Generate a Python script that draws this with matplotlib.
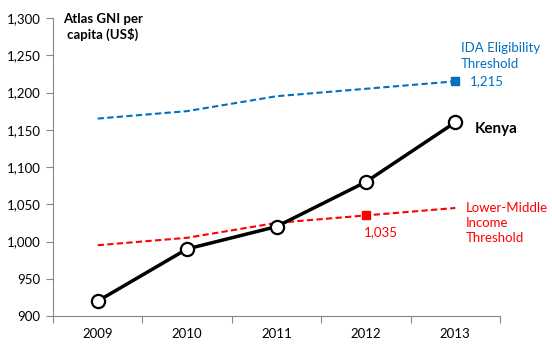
import matplotlib
matplotlib.use("Agg")
import matplotlib.pyplot as plt
from matplotlib.ticker import FuncFormatter, FixedLocator

plt.rcParams['font.family'] = ['Lato', 'DejaVu Sans']

years = ['2009', '2010', '2011', '2012', '2013']
kenya = [920, 990, 1020, 1080, 1160]
ida_threshold = [1165, 1175, 1195, 1205, 1215]
lmi_threshold = [995, 1005, 1025, 1035, 1045]

blue = '#0070C0'
red = '#FF0000'

fig = plt.figure(figsize=(5.52, 3.44), dpi=100)
ax = fig.add_axes([53 / 552, 1 - 316 / 344, (500 - 53) / 552, (316 - 18) / 344])

x = list(range(len(years)))

ax.plot(x, ida_threshold, linestyle='--', color=blue, lw=1.5, dashes=(3, 1.6))
ax.plot(x[-1], ida_threshold[-1], 's', color=blue, ms=5.5)
ax.plot(x, lmi_threshold, linestyle='--', color=red, lw=1.5, dashes=(3, 1.6))
ax.plot(x[3], lmi_threshold[3], 's', color=red, ms=5.5)
ax.plot(x, kenya, color='black', lw=2.5, marker='o', ms=9.5,
        markerfacecolor='white', markeredgecolor='black', markeredgewidth=1.6, zorder=5)

ax.set_xlim(-0.5, 4.5)
ax.set_ylim(900, 1300)
ax.set_yticks(range(900, 1301, 50))
ax.yaxis.set_major_formatter(FuncFormatter(lambda v, p: f'{int(v):,}'))

# category boundaries as tick marks, labels in the middle
ax.xaxis.set_major_locator(FixedLocator([i - 0.5 for i in range(len(years) + 1)]))
ax.xaxis.set_major_formatter(FuncFormatter(lambda v, p: ''))
ax.xaxis.set_minor_locator(FixedLocator(x))
ax.set_xticklabels(years, minor=True)
ax.tick_params(axis='x', which='major', length=5, color='#868686', direction='out')
ax.tick_params(axis='x', which='minor', length=0, pad=9, labelsize=9.5)
ax.tick_params(axis='y', length=5, color='#868686', direction='out', labelsize=9.5, pad=4)

for side in ['top', 'right']:
    ax.spines[side].set_visible(False)
for side in ['left', 'bottom']:
    ax.spines[side].set_color('#868686')

ax.text(103 / 552, 1 - 27 / 344, 'Atlas GNI per\ncapita (US$)', transform=fig.transFigure,
        ha='center', va='center', fontsize=9.5, fontweight='bold', linespacing=1.2)
ax.text(461 / 552, 1 - 56 / 344, 'IDA Eligibility\nThreshold', transform=fig.transFigure,
        ha='left', va='center', fontsize=9.5, color=blue, linespacing=1.3)
ax.annotate(f'{ida_threshold[-1]:,}', (x[-1], ida_threshold[-1]), xytext=(10.5, 0),
            textcoords='offset points', ha='left', va='center', fontsize=9.5, color=blue)
ax.annotate('Kenya', (x[-1], kenya[-1]), xytext=(14, -5), textcoords='offset points',
            ha='left', va='center', fontsize=11, fontweight='bold')
ax.text(466 / 552, 1 - 223 / 344, 'Lower-Middle\nIncome\nThreshold', transform=fig.transFigure,
        ha='left', va='center', fontsize=9.5, color=red, linespacing=1.35)
ax.annotate(f'{lmi_threshold[3]:,}', (x[3], lmi_threshold[3]), xytext=(11, -12),
            textcoords='offset points', ha='center', va='center', fontsize=9.5, color=red)

fig.savefig('out.png', dpi=100)
